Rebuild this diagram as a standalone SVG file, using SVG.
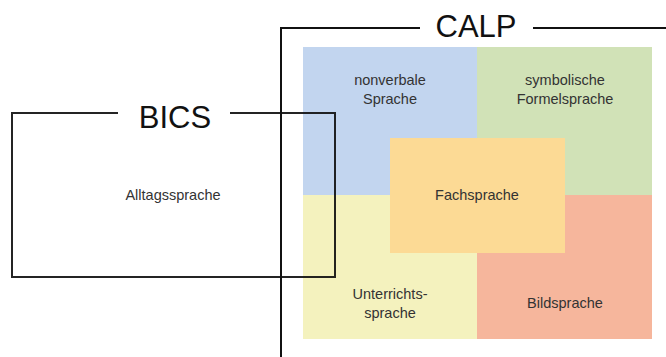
<svg xmlns="http://www.w3.org/2000/svg" width="666" height="357" viewBox="0 0 666 357">
<style>
.t{font-family:"Liberation Sans",Arial,sans-serif;font-size:14.5px;fill:#333;text-anchor:middle}
.h{font-family:"Liberation Sans",Arial,sans-serif;font-size:31px;fill:#111;text-anchor:middle}
.ln{fill:none;stroke:#111;stroke-width:2}
</style>
<rect width="666" height="357" fill="#fff"/>
<g id="nonverbal"><rect x="303" y="47" width="174" height="148" fill="#C2D5EF"/><text class="t" x="390" y="85">nonverbale</text><text class="t" x="390" y="104">Sprache</text></g>
<g id="symbolisch"><rect x="477" y="47" width="175" height="148" fill="#D1E2B7"/><text class="t" x="565" y="85">symbolische</text><text class="t" x="565" y="104">Formelsprache</text></g>
<g id="unterricht"><rect x="303" y="195" width="174" height="144" fill="#F4F2BE"/><text class="t" x="390" y="299">Unterrichts-</text><text class="t" x="390" y="318">sprache</text></g>
<g id="bild"><rect x="477" y="195" width="175" height="144" fill="#F6B69C"/><text class="t" x="565" y="308">Bildsprache</text></g>
<g id="fach"><rect x="390" y="138" width="175" height="115" fill="#FCDA95"/><text class="t" x="477" y="200">Fachsprache</text></g>
<g id="bics"><path class="ln" d="M118 113H12V277H335V113H230" stroke="#151a1f" stroke-opacity="0.92"/><text class="h" x="175" y="128">BICS</text><text class="t" x="173" y="200">Alltagssprache</text></g>
<g id="calp"><path class="ln" d="M281 357V28H420M533 28H666"/><text class="h" x="476" y="37">CALP</text></g>
</svg>
